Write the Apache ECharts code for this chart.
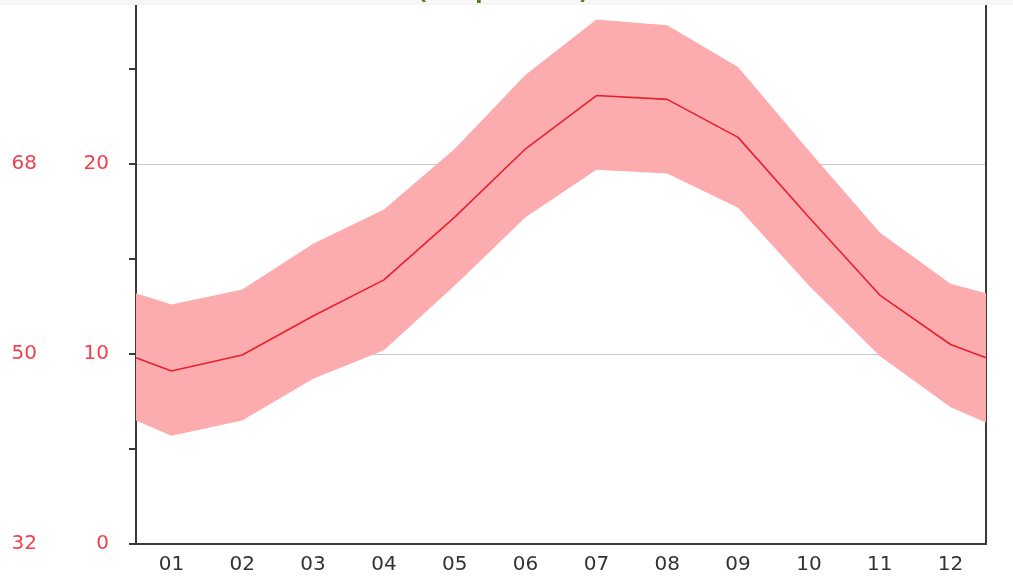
<!DOCTYPE html>
<html>
<head>
<meta charset="utf-8">
<script src="https://cdn.jsdelivr.net/npm/echarts@6/dist/echarts.min.js"></script>
<style>
  html, body { margin: 0; padding: 0; background: #fff; }
  #main { width: 1013px; height: 577px; }
</style>
</head>
<body>
<div id="main"></div>
<script>
// month labels on the x axis
var months = ['01', '02', '03', '04', '05', '06', '07', '08', '09', '10', '11', '12'];

// mean / max / min temperature in °C, one per month
var meanTemp = [9.1, 9.95, 12.0, 13.9, 17.2, 20.8, 23.6, 23.4, 21.4, 17.2, 13.1, 10.5];
var maxTemp = [12.6, 13.4, 15.8, 17.6, 20.8, 24.7, 27.6, 27.3, 25.1, 20.7, 16.4, 13.7];
var minTemp = [5.7, 6.5, 8.7, 10.2, 13.6, 17.2, 19.7, 19.5, 17.7, 13.6, 9.9, 7.2];

// values at the left / right edge of the plot (year wrap-around)
var edgeMean = [9.8, 9.8];
var edgeMax = [13.2, 13.2];
var edgeMin = [6.5, 6.4];

// tick labels: °C value -> °F label
var celsiusTicks = [0, 10, 20];
var fahrenheitLabels = ['32', '50', '68'];

var labelRed = '#f2404e';
var axisGray = '#3a3a3a';
var yTop = 28.63; // value at the top edge of the picture

// build [x, y] pairs, months sit at the middle of their slot
function buildSeries(vals, edges) {
    var out = [[0, edges[0]]];
    for (var i = 0; i < vals.length; i++) {
        out.push([i + 0.5, vals[i]]);
    }
    out.push([vals.length, edges[1]]);
    return out;
}

var lowData = buildSeries(minTemp, edgeMin);
var highData = buildSeries(maxTemp, edgeMax);
var meanData = buildSeries(meanTemp, edgeMean);

// band: one polygon from max (left->right) and min (right->left)
function renderBand(params, api) {
    if (params.dataIndex !== 0) return;
    var pts = [];
    for (var i = 0; i < highData.length; i++) pts.push(api.coord(highData[i]));
    for (var j = lowData.length - 1; j >= 0; j--) pts.push(api.coord(lowData[j]));
    return {
        type: 'polygon',
        shape: { points: pts },
        style: { fill: '#fcacaf' }
    };
}

var myChart = echarts.init(document.getElementById('main'));

var option = {
    animation: false,
    grid: { left: 136, right: 27, top: 0, bottom: 33 },
    xAxis: [{
        type: 'category',
        data: months,
        boundaryGap: true,
        axisLine: { lineStyle: { color: axisGray, width: 2 } },
        axisTick: { length: 6, lineStyle: { color: axisGray, width: 2 } },
        axisLabel: { color: '#333', fontSize: 20, fontFamily: 'DejaVu Sans', margin: 11 },
        splitLine: { show: false }
    }, {
        type: 'value',
        min: 0,
        max: 12,
        show: false
    }],
    yAxis: [{
        // °C axis with ticks every 5
        type: 'value',
        min: 0,
        max: yTop,
        interval: 5,
        position: 'left',
        axisLine: { show: true, lineStyle: { color: axisGray, width: 2 } },
        axisTick: { show: true, length: 7, lineStyle: { color: axisGray, width: 2 } },
        axisLabel: {
            color: labelRed, fontSize: 20, fontFamily: 'DejaVu Sans', margin: 27, align: 'right',
            formatter: function (v) {
                return celsiusTicks.indexOf(v) >= 0 ? String(v) : '';
            }
        },
        splitLine: { show: false }
    }, {
        // °F labels
        type: 'value',
        min: 0,
        max: yTop,
        interval: 5,
        position: 'left',
        axisLine: { show: false },
        axisTick: { show: false },
        axisLabel: {
            color: labelRed, fontSize: 20, fontFamily: 'DejaVu Sans', margin: 99, align: 'right',
            formatter: function (v) {
                var idx = celsiusTicks.indexOf(v);
                return idx >= 0 ? fahrenheitLabels[idx] : '';
            }
        },
        splitLine: { show: false }
    }, {
        // grid lines every 10 and the right border
        type: 'value',
        min: 0,
        max: yTop,
        interval: 10,
        position: 'right',
        axisLine: { show: true, lineStyle: { color: axisGray, width: 2 } },
        axisTick: { show: false },
        axisLabel: { show: false },
        splitLine: { show: true, lineStyle: { color: '#c8c8c8', width: 1 } }
    }],
    series: [{
        name: 'range',
        type: 'custom',
        xAxisIndex: 1,
        yAxisIndex: 0,
        data: highData,
        renderItem: renderBand,
        silent: true,
        z: 2
    }, {
        name: 'mean',
        type: 'line',
        xAxisIndex: 1,
        yAxisIndex: 0,
        data: meanData,
        symbol: 'none',
        z: 5,
        lineStyle: { color: '#e8202c', width: 1.6 }
    }],
    graphic: [{
        type: 'rect',
        left: 0,
        top: 0,
        shape: { width: 1013, height: 5 },
        style: { fill: '#f6f6f6' },
        z: 100
    }, {
        type: 'text',
        left: 418,
        top: -17,
        style: { text: '(Temperature)', fill: '#5c7a1e', font: 'bold 21px DejaVu Sans' },
        z: 101
    }]
};

myChart.setOption(option);
</script>
</body>
</html>
